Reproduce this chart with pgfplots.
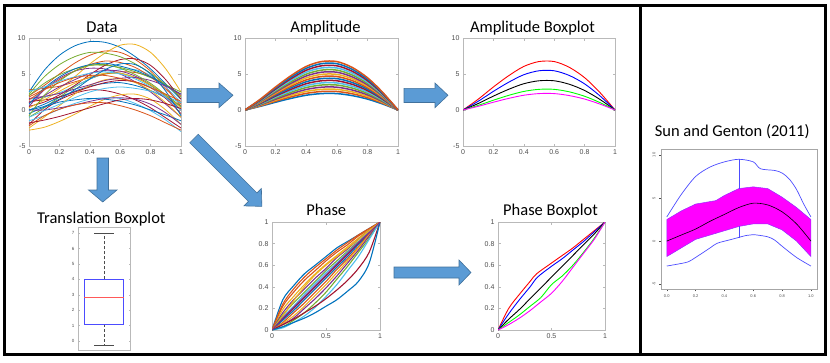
\documentclass[border=0pt]{standalone}
\usepackage{fontspec}
\setmainfont{Liberation Sans}
\newfontfamily\titlefont{Carlito}
\usepackage{pgfplots}
\pgfplotsset{compat=1.18}

\definecolor{m1}{rgb}{0,0.447,0.741}
\definecolor{m2}{rgb}{0.85,0.325,0.098}
\definecolor{m3}{rgb}{0.929,0.694,0.125}
\definecolor{m4}{rgb}{0.494,0.184,0.556}
\definecolor{m5}{rgb}{0.466,0.674,0.188}
\definecolor{m6}{rgb}{0.301,0.745,0.933}
\definecolor{m7}{rgb}{0.635,0.078,0.184}
\definecolor{pred}{rgb}{1,0,0}
\definecolor{pblue}{rgb}{0,0,1}
\definecolor{pgreen}{rgb}{0,1,0}
\definecolor{pmag}{rgb}{1,0,1}
\definecolor{lblue}{rgb}{0.3,0.3,1}
\definecolor{lred}{rgb}{1,0.35,0.35}
\definecolor{arrfill}{HTML}{5B9BD5}
\definecolor{arrdraw}{HTML}{41719C}

\pgfplotscreateplotcyclelist{matlab}{{m1},{m2},{m3},{m4},{m5},{m6},{m7}}

\pgfplotsset{
  mlab/.style={
    scale only axis, anchor=north west,
    axis line style={gray!55, line width=0.5pt},
    tick style={gray!55, line width=0.4pt},
    tick align=inside, major tick length=2.5pt,
    ticklabel style={font=\fontsize{7}{8}\selectfont, text=black!70},
    /pgf/number format/assume math mode=true,
    cycle list name=matlab, no markers,
    every axis plot/.append style={smooth},
  },
}
\tikzset{
  ttl/.style={font=\titlefont\fontsize{16.5}{18}\selectfont, anchor=base},
  blk/.style={fill=arrfill, draw=arrdraw, line width=0.6pt},
}

\begin{document}
\begin{tikzpicture}
\useasboundingbox (0,0) rectangle (830pt,-362pt);

% ---------- Data ----------
\begin{axis}[mlab, at={(29pt,-38pt)}, width=152pt, height=108pt,
  xmin=0, xmax=1, ymin=-5, ymax=10,
  xtick={0,0.2,0.4,0.6,0.8,1}, ytick={-5,0,5,10},
  every axis plot/.append style={line width=0.8pt}]
\addplot coordinates {(0,2.5)(0.1,5.5)(0.2,7.6)(0.3,8.9)(0.4,9.5)(0.5,9.4)(0.6,8.7)(0.7,7.4)(0.8,5.7)(0.9,3.6)(1,1.5)};
\addplot coordinates {(0,2.0)(0.1,3.4)(0.2,5.0)(0.3,6.5)(0.4,7.6)(0.5,8.2)(0.6,8.0)(0.7,7.0)(0.8,5.4)(0.9,3.2)(1,0.5)};
\addplot coordinates {(0,1.0)(0.1,1.7)(0.2,3.0)(0.3,4.6)(0.4,6.4)(0.5,7.9)(0.6,9.0)(0.7,9.1)(0.8,8.0)(0.9,5.7)(1,2.5)};
\addplot coordinates {(0,0.5)(0.1,2.8)(0.2,4.4)(0.3,5.4)(0.4,5.8)(0.5,5.7)(0.6,5.0)(0.7,3.9)(0.8,2.5)(0.9,0.8)(1,-1.0)};
\addplot coordinates {(0,-1.0)(0.1,0.3)(0.2,1.8)(0.3,3.2)(0.4,4.3)(0.5,5.0)(0.6,5.1)(0.7,4.5)(0.8,3.4)(0.9,1.9)(1,0)};
\addplot coordinates {(0,1.5)(0.1,1.8)(0.2,2.4)(0.3,3.3)(0.4,4.3)(0.5,5.1)(0.6,5.6)(0.7,5.6)(0.8,4.8)(0.9,3.2)(1,1.0)};
\addplot coordinates {(0,-2.0)(0.1,0.0)(0.2,1.4)(0.3,2.3)(0.4,2.8)(0.5,2.7)(0.6,2.2)(0.7,1.4)(0.8,0.3)(0.9,-1.1)(1,-2.5)};
\addplot coordinates {(0,0)(0.1,0.8)(0.2,1.8)(0.3,2.6)(0.4,3.3)(0.5,3.7)(0.6,3.8)(0.7,3.4)(0.8,2.7)(0.9,1.7)(1,0.5)};
\addplot coordinates {(0,2.8)(0.1,3.0)(0.2,3.3)(0.3,3.9)(0.4,4.5)(0.5,5.0)(0.6,5.3)(0.7,5.2)(0.8,4.6)(0.9,3.5)(1,2.0)};
\addplot coordinates {(0,-2.8)(0.1,-2.4)(0.2,-1.6)(0.3,-0.6)(0.4,0.5)(0.5,1.5)(0.6,2.1)(0.7,2.2)(0.8,1.5)(0.9,0.0)(1,-2.0)};
\addplot coordinates {(0,1.0)(0.1,2.0)(0.2,3.2)(0.3,4.2)(0.4,5.1)(0.5,5.5)(0.6,5.4)(0.7,4.7)(0.8,3.5)(0.9,1.9)(1,0)};
\addplot coordinates {(0,2.0)(0.1,3.7)(0.2,4.9)(0.3,5.7)(0.4,6.2)(0.5,6.2)(0.6,5.9)(0.7,5.3)(0.8,4.5)(0.9,3.5)(1,2.5)};
\addplot coordinates {(0,-1.5)(0.1,-0.8)(0.2,0.1)(0.3,0.9)(0.4,1.5)(0.5,1.7)(0.6,1.6)(0.7,0.9)(0.8,-0.1)(0.9,-1.4)(1,-3.0)};
\addplot coordinates {(0,0.5)(0.1,1.1)(0.2,2.1)(0.3,3.4)(0.4,4.9)(0.5,6.2)(0.6,7.0)(0.7,7.1)(0.8,6.2)(0.9,4.2)(1,1.5)};
\addplot coordinates {(0,-0.5)(0.1,0.4)(0.2,1.1)(0.3,1.4)(0.4,1.6)(0.5,1.5)(0.6,1.2)(0.7,0.7)(0.8,0)(0.9,-0.7)(1,-1.5)};
\addplot coordinates {(0,1.8)(0.1,2.9)(0.2,4.2)(0.3,5.4)(0.4,6.3)(0.5,6.8)(0.6,6.6)(0.7,5.9)(0.8,4.6)(0.9,2.9)(1,0.8)};
\addplot coordinates {(0,-2.5)(0.1,-1.0)(0.2,0.6)(0.3,2.2)(0.4,3.4)(0.5,4.2)(0.6,4.3)(0.7,3.8)(0.8,2.7)(0.9,1.0)(1,-1.0)};
\addplot coordinates {(0,0)(0.1,0)(0.2,0.3)(0.3,0.7)(0.4,1.2)(0.5,1.6)(0.6,1.7)(0.7,1.5)(0.8,0.8)(0.9,-0.4)(1,-2.0)};
\addplot coordinates {(0,2.2)(0.1,4.6)(0.2,6.3)(0.3,7.4)(0.4,8.0)(0.5,7.9)(0.6,7.4)(0.7,6.4)(0.8,5.1)(0.9,3.5)(1,1.8)};
\addplot coordinates {(0,-1.0)(0.1,-0.1)(0.2,0.8)(0.3,1.7)(0.4,2.5)(0.5,3.0)(0.6,3.2)(0.7,3.0)(0.8,2.6)(0.9,1.9)(1,1.0)};
\addplot coordinates {(0,1.2)(0.1,1.4)(0.2,1.8)(0.3,2.5)(0.4,3.2)(0.5,3.8)(0.6,4.1)(0.7,3.9)(0.8,3.1)(0.9,1.6)(1,-0.5)};
\addplot coordinates {(0,0.8)(0.1,3.0)(0.2,4.6)(0.3,5.7)(0.4,6.3)(0.5,6.5)(0.6,6.1)(0.7,5.5)(0.8,4.6)(0.9,3.4)(1,2.2)};
\addplot coordinates {(0,-2.2)(0.1,-0.8)(0.2,0.1)(0.3,0.7)(0.4,1.0)(0.5,1.0)(0.6,0.6)(0.7,0)(0.8,-0.8)(0.9,-1.8)(1,-2.8)};
\addplot coordinates {(0,0.3)(0.1,1.4)(0.2,2.6)(0.3,3.7)(0.4,4.6)(0.5,5.1)(0.6,5.1)(0.7,4.5)(0.8,3.5)(0.9,2.0)(1,0.3)};
\addplot coordinates {(0,1.6)(0.1,1.9)(0.2,2.3)(0.3,2.9)(0.4,3.5)(0.5,4.1)(0.6,4.4)(0.7,4.5)(0.8,4.1)(0.9,3.3)(1,2.2)};
\addplot coordinates {(0,-0.8)(0.1,2.0)(0.2,4.0)(0.3,5.4)(0.4,6.2)(0.5,6.3)(0.6,5.8)(0.7,4.9)(0.8,3.7)(0.9,2.1)(1,0.5)};
\addplot coordinates {(0,2.6)(0.1,3.2)(0.2,4.0)(0.3,4.6)(0.4,5.1)(0.5,5.3)(0.6,5.0)(0.7,4.3)(0.8,3.2)(0.9,1.7)(1,0)};
\addplot coordinates {(0,-1.8)(0.1,-1.4)(0.2,-0.9)(0.3,-0.3)(0.4,0.3)(0.5,0.9)(0.6,1.4)(0.7,1.6)(0.8,1.4)(0.9,0.9)(1,0.2)};
\addplot coordinates {(0,0)(0.1,0.5)(0.2,1.5)(0.3,2.8)(0.4,4.3)(0.5,5.6)(0.6,6.4)(0.7,6.3)(0.8,5.0)(0.9,2.6)(1,-0.8)};
\addplot coordinates {(0,1.4)(0.1,2.8)(0.2,3.8)(0.3,4.5)(0.4,4.8)(0.5,4.8)(0.6,4.4)(0.7,3.9)(0.8,3.1)(0.9,2.2)(1,1.2)};
\end{axis}

% ---------- Amplitude ----------
\begin{axis}[mlab, at={(245pt,-38pt)}, width=153pt, height=108pt,
  xmin=0, xmax=1, ymin=-5, ymax=10,
  xtick={0,0.2,0.4,0.6,0.8,1}, ytick={-5,0,5,10},
  every axis plot/.append style={line width=1.5pt}]
\addplot coordinates {(0,0)(0.1,0.51)(0.2,1.08)(0.3,1.61)(0.4,2.05)(0.5,2.28)(0.6,2.28)(0.7,2.00)(0.8,1.52)(0.9,0.83)(1,0)};
\addplot coordinates {(0,0)(0.1,0.57)(0.2,1.22)(0.3,1.82)(0.4,2.31)(0.5,2.57)(0.6,2.57)(0.7,2.26)(0.8,1.72)(0.9,0.94)(1,0)};
\addplot coordinates {(0,0)(0.1,0.64)(0.2,1.36)(0.3,2.03)(0.4,2.58)(0.5,2.87)(0.6,2.87)(0.7,2.52)(0.8,1.91)(0.9,1.04)(1,0)};
\addplot coordinates {(0,0)(0.1,0.70)(0.2,1.50)(0.3,2.24)(0.4,2.85)(0.5,3.17)(0.6,3.17)(0.7,2.78)(0.8,2.11)(0.9,1.15)(1,0)};
\addplot coordinates {(0,0)(0.1,0.77)(0.2,1.65)(0.3,2.45)(0.4,3.12)(0.5,3.47)(0.6,3.47)(0.7,3.05)(0.8,2.31)(0.9,1.26)(1,0)};
\addplot coordinates {(0,0)(0.1,0.84)(0.2,1.79)(0.3,2.66)(0.4,3.38)(0.5,3.76)(0.6,3.76)(0.7,3.31)(0.8,2.51)(0.9,1.37)(1,0)};
\addplot coordinates {(0,0)(0.1,0.90)(0.2,1.93)(0.3,2.87)(0.4,3.65)(0.5,4.06)(0.6,4.06)(0.7,3.57)(0.8,2.71)(0.9,1.48)(1,0)};
\addplot coordinates {(0,0)(0.1,0.97)(0.2,2.07)(0.3,3.08)(0.4,3.92)(0.5,4.36)(0.6,4.36)(0.7,3.83)(0.8,2.90)(0.9,1.58)(1,0)};
\addplot coordinates {(0,0)(0.1,1.03)(0.2,2.21)(0.3,3.29)(0.4,4.18)(0.5,4.65)(0.6,4.65)(0.7,4.09)(0.8,3.10)(0.9,1.69)(1,0)};
\addplot coordinates {(0,0)(0.1,1.10)(0.2,2.35)(0.3,3.50)(0.4,4.45)(0.5,4.95)(0.6,4.95)(0.7,4.35)(0.8,3.30)(0.9,1.80)(1,0)};
\addplot coordinates {(0,0)(0.1,1.17)(0.2,2.49)(0.3,3.71)(0.4,4.72)(0.5,5.25)(0.6,5.25)(0.7,4.61)(0.8,3.50)(0.9,1.91)(1,0)};
\addplot coordinates {(0,0)(0.1,1.23)(0.2,2.63)(0.3,3.92)(0.4,4.98)(0.5,5.54)(0.6,5.54)(0.7,4.87)(0.8,3.70)(0.9,2.02)(1,0)};
\addplot coordinates {(0,0)(0.1,1.30)(0.2,2.77)(0.3,4.13)(0.4,5.25)(0.5,5.84)(0.6,5.84)(0.7,5.13)(0.8,3.89)(0.9,2.12)(1,0)};
\addplot coordinates {(0,0)(0.1,1.36)(0.2,2.91)(0.3,4.34)(0.4,5.52)(0.5,6.14)(0.6,6.14)(0.7,5.39)(0.8,4.09)(0.9,2.23)(1,0)};
\addplot coordinates {(0,0)(0.1,1.43)(0.2,3.06)(0.3,4.55)(0.4,5.79)(0.5,6.44)(0.6,6.44)(0.7,5.66)(0.8,4.29)(0.9,2.34)(1,0)};
\addplot coordinates {(0,0)(0.1,1.50)(0.2,3.20)(0.3,4.76)(0.4,6.05)(0.5,6.73)(0.6,6.73)(0.7,5.92)(0.8,4.49)(0.9,2.45)(1,0)};
\end{axis}

% ---------- Amplitude Boxplot ----------
\begin{axis}[mlab, at={(463pt,-38pt)}, width=152pt, height=108pt,
  xmin=0, xmax=1, ymin=-5, ymax=10,
  xtick={0,0.2,0.4,0.6,0.8,1}, ytick={-5,0,5,10},
  every axis plot/.append style={line width=0.9pt}]
\addplot[pred] coordinates {(0,0)(0.1,1.50)(0.2,3.20)(0.3,4.76)(0.4,6.05)(0.5,6.73)(0.6,6.73)(0.7,5.92)(0.8,4.49)(0.9,2.45)(1,0)};
\addplot[pblue] coordinates {(0,0)(0.1,1.21)(0.2,2.59)(0.3,3.85)(0.4,4.90)(0.5,5.45)(0.6,5.45)(0.7,4.79)(0.8,3.63)(0.9,1.98)(1,0)};
\addplot[black] coordinates {(0,0)(0.1,0.90)(0.2,1.93)(0.3,2.87)(0.4,3.65)(0.5,4.06)(0.6,4.06)(0.7,3.57)(0.8,2.71)(0.9,1.48)(1,0)};
\addplot[pgreen] coordinates {(0,0)(0.1,0.64)(0.2,1.36)(0.3,2.03)(0.4,2.58)(0.5,2.87)(0.6,2.87)(0.7,2.52)(0.8,1.91)(0.9,1.04)(1,0)};
\addplot[pmag] coordinates {(0,0)(0.1,0.51)(0.2,1.08)(0.3,1.61)(0.4,2.05)(0.5,2.28)(0.6,2.28)(0.7,2.00)(0.8,1.52)(0.9,0.83)(1,0)};
\end{axis}

% ---------- Translation Boxplot ----------
\begin{axis}[mlab, at={(78pt,-227pt)}, width=52pt, height=123pt,
  xmin=0.5, xmax=1.5, ymin=-0.58, ymax=7.4,
  xtick=\empty, ytick={0,1,2,3,4,5,6,7},
  major tick length=1.5pt,
  ticklabel style={font=\fontsize{4.5}{5}\selectfont},
  every axis plot/.append style={sharp plot}]
\addplot[black!70, densely dashed, line width=0.5pt] coordinates {(1,4.0)(1,7.0)};
\addplot[black!70, densely dashed, line width=0.5pt] coordinates {(1,1.1)(1,-0.26)};
\addplot[black!70, line width=0.8pt] coordinates {(0.81,7.0)(1.19,7.0)};
\addplot[black!70, line width=0.8pt] coordinates {(0.81,-0.26)(1.19,-0.26)};
\addplot[color=lblue, line width=0.8pt] coordinates {(0.62,1.1)(1.38,1.1)(1.38,4.0)(0.62,4.0)(0.62,1.1)};
\addplot[color=lred, line width=0.9pt] coordinates {(0.62,2.86)(1.0,2.86)(1.38,2.86)};
\end{axis}

% ---------- Phase ----------
\begin{axis}[mlab, at={(272pt,-222pt)}, width=108pt, height=108pt,
  xmin=0, xmax=1, ymin=0, ymax=1,
  xtick={0,0.5,1}, ytick={0,0.2,0.4,0.6,0.8,1},
  every axis plot/.append style={line width=1.1pt}]
\addplot coordinates {(0,0)(0.1,0.28)(0.2,0.41)(0.3,0.52)(0.4,0.60)(0.5,0.68)(0.6,0.76)(0.7,0.82)(0.8,0.88)(0.9,0.94)(1,1)};
\addplot coordinates {(0,0)(0.1,0.22)(0.2,0.35)(0.3,0.46)(0.4,0.55)(0.5,0.64)(0.6,0.72)(0.7,0.79)(0.8,0.87)(0.9,0.93)(1,1)};
\addplot coordinates {(0,0)(0.1,0.19)(0.2,0.31)(0.3,0.42)(0.4,0.52)(0.5,0.61)(0.6,0.69)(0.7,0.77)(0.8,0.85)(0.9,0.93)(1,1)};
\addplot coordinates {(0,0)(0.1,0.16)(0.2,0.28)(0.3,0.38)(0.4,0.48)(0.5,0.57)(0.6,0.67)(0.7,0.75)(0.8,0.84)(0.9,0.92)(1,1)};
\addplot coordinates {(0,0)(0.1,0.14)(0.2,0.25)(0.3,0.35)(0.4,0.45)(0.5,0.55)(0.6,0.64)(0.7,0.73)(0.8,0.82)(0.9,0.91)(1,1)};
\addplot coordinates {(0,0)(0.1,0.12)(0.2,0.22)(0.3,0.33)(0.4,0.43)(0.5,0.53)(0.6,0.62)(0.7,0.72)(0.8,0.81)(0.9,0.91)(1,1)};
\addplot coordinates {(0,0)(0.1,0.10)(0.2,0.20)(0.3,0.30)(0.4,0.40)(0.5,0.50)(0.6,0.60)(0.7,0.70)(0.8,0.80)(0.9,0.90)(1,1)};
\addplot coordinates {(0,0)(0.1,0.09)(0.2,0.18)(0.3,0.28)(0.4,0.38)(0.5,0.48)(0.6,0.58)(0.7,0.68)(0.8,0.79)(0.9,0.89)(1,1)};
\addplot coordinates {(0,0)(0.1,0.07)(0.2,0.16)(0.3,0.25)(0.4,0.35)(0.5,0.45)(0.6,0.56)(0.7,0.66)(0.8,0.77)(0.9,0.89)(1,1)};
\addplot coordinates {(0,0)(0.1,0.06)(0.2,0.13)(0.3,0.22)(0.4,0.32)(0.5,0.42)(0.6,0.53)(0.7,0.64)(0.8,0.76)(0.9,0.88)(1,1)};
\addplot coordinates {(0,0)(0.1,0.05)(0.2,0.11)(0.3,0.20)(0.4,0.29)(0.5,0.39)(0.6,0.50)(0.7,0.62)(0.8,0.74)(0.9,0.87)(1,1)};
\addplot coordinates {(0,0)(0.1,0.03)(0.2,0.09)(0.3,0.16)(0.4,0.25)(0.5,0.35)(0.6,0.47)(0.7,0.59)(0.8,0.72)(0.9,0.85)(1,1)};
\addplot coordinates {(0,0)(0.1,0.02)(0.2,0.07)(0.3,0.13)(0.4,0.21)(0.5,0.31)(0.6,0.42)(0.7,0.55)(0.8,0.68)(0.9,0.84)(1,1)};
\addplot coordinates {(0,0)(0.1,0.05)(0.2,0.10)(0.3,0.16)(0.4,0.22)(0.5,0.29)(0.6,0.37)(0.7,0.46)(0.8,0.57)(0.9,0.72)(1,1)};
\addplot coordinates {(0,0)(0.1,0.03)(0.2,0.07)(0.3,0.11)(0.4,0.16)(0.5,0.22)(0.6,0.28)(0.7,0.36)(0.8,0.45)(0.9,0.62)(1,1)};
\addplot coordinates {(0,0)(0.1,0.24)(0.2,0.38)(0.3,0.49)(0.4,0.58)(0.5,0.66)(0.6,0.74)(0.7,0.81)(0.8,0.88)(0.9,0.94)(1,1)};
\addplot coordinates {(0,0)(0.1,0.13)(0.2,0.27)(0.3,0.40)(0.4,0.51)(0.5,0.60)(0.6,0.68)(0.7,0.76)(0.8,0.84)(0.9,0.92)(1,1)};
\addplot coordinates {(0,0)(0.1,0.11)(0.2,0.21)(0.3,0.31)(0.4,0.41)(0.5,0.51)(0.6,0.61)(0.7,0.71)(0.8,0.81)(0.9,0.90)(1,1)};
\end{axis}

% ---------- Phase Boxplot ----------
\begin{axis}[mlab, at={(498pt,-222pt)}, width=107pt, height=108pt,
  xmin=0, xmax=1, ymin=0, ymax=1,
  xtick={0,0.5,1}, ytick={0,0.2,0.4,0.6,0.8,1},
  every axis plot/.append style={line width=0.9pt}]
\addplot[pred] coordinates {(0,0)(0.1,0.20)(0.2,0.33)(0.3,0.45)(0.36,0.52)(0.5,0.62)(0.6,0.69)(0.7,0.76)(0.8,0.84)(0.9,0.92)(1,1)};
\addplot[pblue] coordinates {(0,0)(0.1,0.15)(0.2,0.28)(0.3,0.40)(0.37,0.49)(0.5,0.59)(0.6,0.66)(0.7,0.74)(0.8,0.82)(0.9,0.91)(1,1)};
\addplot[black] coordinates {(0,0)(0.1,0.10)(0.2,0.19)(0.3,0.29)(0.4,0.39)(0.5,0.49)(0.6,0.59)(0.7,0.69)(0.8,0.79)(0.9,0.89)(1,1)};
\addplot[pgreen] coordinates {(0,0)(0.1,0.07)(0.2,0.14)(0.3,0.22)(0.4,0.30)(0.5,0.42)(0.6,0.50)(0.7,0.60)(0.8,0.72)(0.9,0.85)(1,1)};
\addplot[pmag] coordinates {(0,0)(0.1,0.05)(0.2,0.11)(0.3,0.18)(0.4,0.26)(0.5,0.34)(0.6,0.45)(0.7,0.58)(0.8,0.71)(0.9,0.84)(1,1)};
\end{axis}

% ---------- Sun and Genton (2011) ----------
\begin{axis}[scale only axis, anchor=north west, at={(661pt,-149.3pt)},
  width=155.7pt, height=140pt,
  xmin=-0.04, xmax=1.04, ymin=-5.6, ymax=10.66,
  axis line style={gray!70, line width=0.4pt},
  tick style={black!70, line width=0.3pt},
  tick align=outside, xtick pos=lower, ytick pos=left, major tick length=2pt,
  xtick={0,0.2,0.4,0.6,0.8,1}, ytick={-5,0,5,10},
  xticklabel style={/pgf/number format/.cd, fixed, fixed zerofill, precision=1},
  yticklabel style={rotate=90, anchor=south},
  ticklabel style={font=\fontsize{4}{5}\selectfont, text=black!70},
  /pgf/number format/assume math mode=true, no markers]
\addplot[fill=pmag, draw=lblue!60!pmag, line width=0.5pt] coordinates {(0,-1.8)(0,2.5)(0.1,3.5)(0.2,4.3)(0.34,4.7)(0.4,5.3)(0.5,6.1)(0.6,6.3)(0.7,6.1)(0.8,5.1)(0.9,3.9)(1,2.5)(1,-1.8)(0.9,0)(0.8,1.3)(0.7,2.0)(0.6,2.0)(0.5,1.7)(0.4,1.2)(0.3,0.7)(0.2,0.2)(0.1,-0.8)(0,-1.8)};
\addplot[color=lblue, line width=0.7pt] coordinates {(0.5,6.1)(0.5,9.5)};
\addplot[color=lblue, line width=0.7pt] coordinates {(0.5,0.4)(0.5,1.7)};
\addplot[color=lblue, line width=0.7pt, smooth] coordinates {(0,2.8)(0.1,5.4)(0.2,7.5)(0.3,8.6)(0.4,9.2)(0.5,9.5)(0.6,9.2)(0.65,8.4)(0.75,8.2)(0.8,7.9)(0.85,7.2)(0.9,6.0)(0.95,4.3)(1,2.8)};
\addplot[color=lblue, line width=0.7pt, smooth] coordinates {(0,-2.9)(0.1,-2.6)(0.15,-2.4)(0.2,-1.9)(0.3,-0.8)(0.35,-0.25)(0.45,0.2)(0.55,0.65)(0.6,0.75)(0.7,0.5)(0.75,0.1)(0.8,-0.6)(0.9,-1.9)(1,-2.9)};
\addplot[black, line width=0.6pt, smooth] coordinates {(0,0)(0.1,0.7)(0.2,1.4)(0.3,2.3)(0.4,3.1)(0.5,3.9)(0.6,4.4)(0.7,4.2)(0.8,3.4)(0.9,2.0)(1,0)};
\end{axis}

% ---------- arrows ----------
\filldraw[blk] (187pt,-88.3pt) -- (219pt,-88.3pt) -- (219pt,-83pt) -- (233pt,-95.3pt) -- (219pt,-107.6pt) -- (219pt,-102.5pt) -- (187pt,-102.5pt) -- cycle;
\filldraw[blk] (404pt,-88.3pt) -- (435pt,-88.3pt) -- (435pt,-83pt) -- (448pt,-95.3pt) -- (435pt,-107.6pt) -- (435pt,-102.5pt) -- (404pt,-102.5pt) -- cycle;
\filldraw[blk] (97pt,-158pt) -- (108.5pt,-158pt) -- (108.5pt,-190pt) -- (117pt,-190pt) -- (102.75pt,-202pt) -- (88.5pt,-190pt) -- (97pt,-190pt) -- cycle;
\filldraw[blk, shift={(194pt,-138.5pt)}, rotate=-45] (0pt,6pt) -- (83pt,6pt) -- (83pt,12.3pt) -- (96pt,0pt) -- (83pt,-12.3pt) -- (83pt,-6pt) -- (0pt,-6pt) -- cycle;
\filldraw[blk] (394pt,-267pt) -- (459pt,-267pt) -- (459pt,-260pt) -- (471pt,-272.5pt) -- (459pt,-285pt) -- (459pt,-278pt) -- (394pt,-278pt) -- cycle;

% ---------- titles ----------
\node[ttl] at (102pt,-32.3pt) {Data};
\node[ttl] at (325.5pt,-32.3pt) {Amplitude};
\node[ttl] at (532.5pt,-32.3pt) {Amplitude Boxplot};
\node[ttl] at (101.3pt,-223.3pt) {Translation Boxplot};
\node[ttl] at (326.3pt,-215pt) {Phase};
\node[ttl] at (550.5pt,-215pt) {Phase Boxplot};
\node[ttl] at (732.2pt,-136pt) {Sun and Genton (2011)};

% ---------- frame ----------
\draw[line width=3pt] (4.5pt,-5pt) rectangle (825pt,-354pt);
\draw[line width=3pt] (640pt,-5pt) -- (640pt,-354pt);
\end{tikzpicture}
\end{document}
